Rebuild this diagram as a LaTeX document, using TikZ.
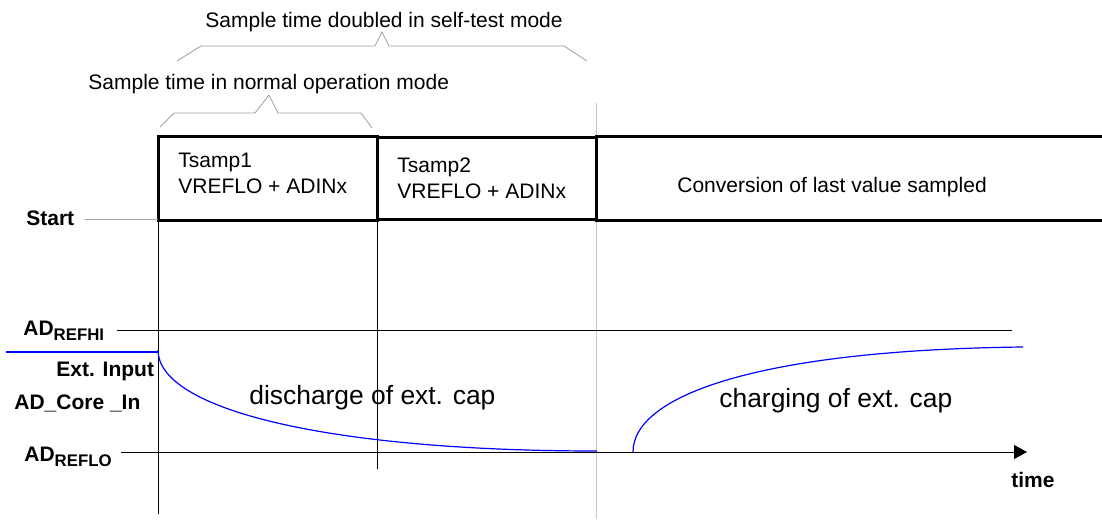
\documentclass[tikz,border=0pt]{standalone}
\usepackage{fontspec}
\setmainfont{Liberation Sans}
\usepackage{xcolor}
\usepackage{tikz}
\usetikzlibrary{arrows.meta, positioning, calc}

\newcommand{\adlevel}[1]{AD\raisebox{-2.5pt}{\fontsize{8.4}{10}\selectfont #1}}

\begin{document}
\begin{tikzpicture}[x=0.5pt, y=-0.5pt,
  txt/.style={inner sep=0pt, anchor=base west, align=left, font=\fontsize{10.5}{13}\selectfont},
  bigtxt/.style={inner sep=0pt, anchor=base west, font=\fontsize{13.2}{16}\selectfont},
  sig/.style={inner sep=0pt, anchor=base west, font=\fontsize{10.5}{13}\selectfont\bfseries},
  bracket/.style={draw=gray!75, line width=0.4pt},
  slot/.style={line width=1.5pt},
  capcurve/.style={draw=blue, line width=0.6pt}]
\useasboundingbox (0,0) rectangle (1102,519);

% Sample time brackets
\node[txt] (selftest) at (205,28) {Sample time doubled in self-test mode};
\draw[bracket] (177,61) -- (201,46) -- (375,46) -- (382,32) -- (389,46) -- (564,46) -- (587,61);
\node[txt] (normal) at (88,90) {Sample time in normal operation mode};
\draw[bracket] (160,127) -- (174,113) -- (255,113) -- (269,95) -- (278,113) -- (361,113) -- (372,128);

% Time markers
\draw[gray!45] (596,103) -- (596,519);
\draw (158,220) -- (158,514);
\draw (377,220) -- (377,469);

% Sample slots (base anchor sits on the last text line)
\draw[slot] (158,136) rectangle (377,220);
\draw[slot] (377,137) rectangle (596,219);
\draw[slot] (1102,136) -- (596,136) -- (596,220) -- (1102,220);
\node[txt] (tsamp1) at (178,193) {Tsamp1\\VREFLO + ADINx};
\node[txt] (tsamp2) at (397,198) {Tsamp2\\VREFLO + ADINx};
\node[txt] (conv) at (677,192) {Conversion of last value sampled};

% Start line
\node[sig] (start) at (26,225) {Start};
\coordinate (startend) at (85,219);
\coordinate (slot1) at (158,219);
\draw[gray!70] (startend) -- (slot1);

% Reference levels and time axis
\node[sig] (refhi) at (23,335) {\adlevel{REFHI}};
\node[sig] (extin) at (56,376) {Ext. Input};
\node[sig] (corein) at (14,409) {AD\_Core \_In};
\node[sig] (reflo) at (24,461) {\adlevel{REFLO}};
\draw (117,330) -- (1012,330);
\draw[-{Triangle[length=6.5pt,width=7pt]}] (121,452) -- (1027,452);
\node[sig] (time) at (1011,487) {time};

% Cap voltage
\draw[blue, line width=1pt] (6,352) -- (158,352);
\draw[capcurve] (158,350) .. controls (158,410) and (330,451) .. (597,451);
\draw[capcurve] (633,452) .. controls (633,395) and (760,350) .. (1023,347);
\node[bigtxt] (discharge) at (249,404) {discharge of ext. cap};
\node[bigtxt] (charging) at (719,407) {charging of ext. cap};

\end{tikzpicture}
\end{document}
